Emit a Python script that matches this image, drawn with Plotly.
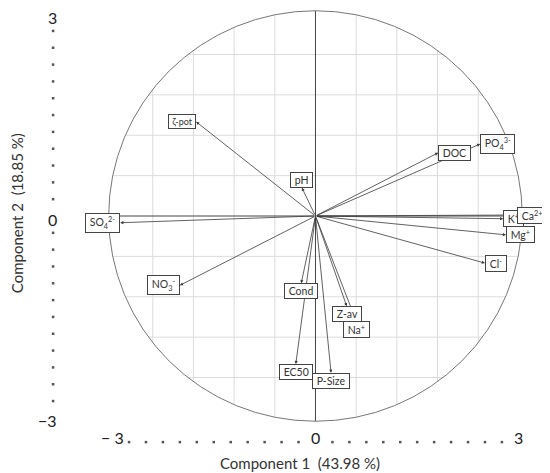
import numpy as np
import plotly.graph_objects as go

# PCA loadings (component 1, component 2)
labels = ["ζ-pot", "pH", "DOC", "PO<sub>4</sub><sup>3-</sup>", "K<sup>+</sup>",
          "Ca<sup>2+</sup>", "Mg<sup>+</sup>", "Cl<sup>-</sup>",
          "SO<sub>4</sub><sup>2-</sup>", "NO<sub>3</sub><sup>-</sup>",
          "Cond", "Z-av", "Na<sup>+</sup>", "EC50", "P-Size"]
comp1 = [-1.76, -0.20, 1.81, 2.43, 2.77, 2.97, 2.81, 2.50, -2.88, -2.00, -0.21, 0.46, 0.60, -0.29, 0.23]
comp2 = [1.40, 0.42, 0.94, 1.07, -0.04, 0.015, -0.28, -0.70, -0.10, -1.03, -1.00, -1.34, -1.56, -2.20, -2.33]

x_title = "Component 1  (43.98 %)"
y_title = "Component 2  (18.85 %)"
tick_vals = [-3, 0, 3]
x_tick_text = ["\u2212 3", "0", "3"]
y_tick_text = ["\u22123", "0", "3"]
grid_vals = [-2.4, -1.8, -1.2, -0.6, 0.6, 1.2, 1.8, 2.4]
minor_vals = [0.25 * k for k in range(-11, 12) if k != 0]

# where each label box sits relative to its arrow tip
side = {"ζ-pot": "right", "pH": "bottom", "SO<sub>4</sub><sup>2-</sup>": "right",
        "NO<sub>3</sub><sup>-</sup>": "right", "Cond": "top", "Z-av": "top",
        "Na<sup>+</sup>": "top", "EC50": "top", "P-Size": "top"}

R = 3.05
font = "Lato, 'Open Sans', sans-serif"
line_col = "#3a3a3a"
tick_font = dict(family=font, size=16, color="#222")

fig = go.Figure()

# grid clipped to the correlation circle
gx, gy = [], []
for g in grid_vals:
    h = np.sqrt(R**2 - g**2)
    gx += [g, g, None, -h, h, None]
    gy += [-h, h, None, g, g, None]
fig.add_trace(go.Scatter(x=gx, y=gy, mode="lines", line=dict(color="#dcdcdc", width=1),
                         hoverinfo="skip"))

# main axes through the origin
fig.add_trace(go.Scatter(x=[0, 0, None, -R, R], y=[-R, R, None, 0, 0], mode="lines",
                         line=dict(color="#444", width=1), hoverinfo="skip"))

fig.add_shape(type="circle", x0=-R, x1=R, y0=-R, y1=R, line=dict(color="#777", width=1))

# dotted minor ticks along both scales
fig.add_trace(go.Scatter(x=minor_vals, y=[-3.36] * len(minor_vals), mode="markers",
                         marker=dict(size=2.5, color="#555", symbol="square"),
                         hoverinfo="skip"))
fig.add_trace(go.Scatter(x=[-3.87] * len(minor_vals), y=minor_vals, mode="markers",
                         marker=dict(size=2.5, color="#555", symbol="square"),
                         hoverinfo="skip"))

# tick labels
for v, t in zip(tick_vals, x_tick_text):
    fig.add_annotation(x=v, y=-3.284, text=t, showarrow=False, font=tick_font)
for v, t in zip(tick_vals, y_tick_text):
    fig.add_annotation(x=-3.78, y=v, text=t, showarrow=False, xanchor="right",
                       yshift=-3, font=tick_font)

# arrows from origin
for lab, a, b in zip(labels, comp1, comp2):
    fig.add_annotation(x=a, y=b, ax=0, ay=0, xref="x", yref="y", axref="x", ayref="y",
                       text="", showarrow=True, arrowhead=2, arrowsize=0.8,
                       arrowwidth=0.8, arrowcolor=line_col, standoff=0, startstandoff=0)

# label boxes
for lab, a, b in zip(labels, comp1, comp2):
    s = side.get(lab, "left")
    if s == "left":
        xa, ya = "left", "middle"
    elif s == "right":
        xa, ya = "right", "middle"
    elif s == "top":
        xa, ya = "center", "top"
    else:
        xa, ya = "center", "bottom"
    fig.add_annotation(x=a, y=b, xref="x", yref="y", text="&nbsp;" + lab + "&nbsp;",
                       showarrow=False, xanchor=xa, yanchor=ya, bgcolor="white",
                       bordercolor="#444", borderwidth=1, borderpad=1,
                       font=dict(family=font, size=9 if lab == "ζ-pot" else 10.5, color="#333"))

fig.add_annotation(x=-0.23, y=-3.67, text=x_title, showarrow=False,
                   font=dict(family=font, size=15, color="#333"))
fig.add_annotation(x=-4.40, y=0.045, text=y_title, showarrow=False, textangle=-90,
                   font=dict(family=font, size=15, color="#333"))

# the page body adds an 8px offset, so the figure is drawn 8px smaller
fig.update_layout(
    width=542, height=465,
    margin=dict(l=0, r=0, t=0, b=0),
    plot_bgcolor="white", paper_bgcolor="white",
    showlegend=False,
    xaxis=dict(range=[-4.535, 3.459], visible=False),
    yaxis=dict(range=[-3.819, 3.091], visible=False),
)

fig.write_html("out.html")
